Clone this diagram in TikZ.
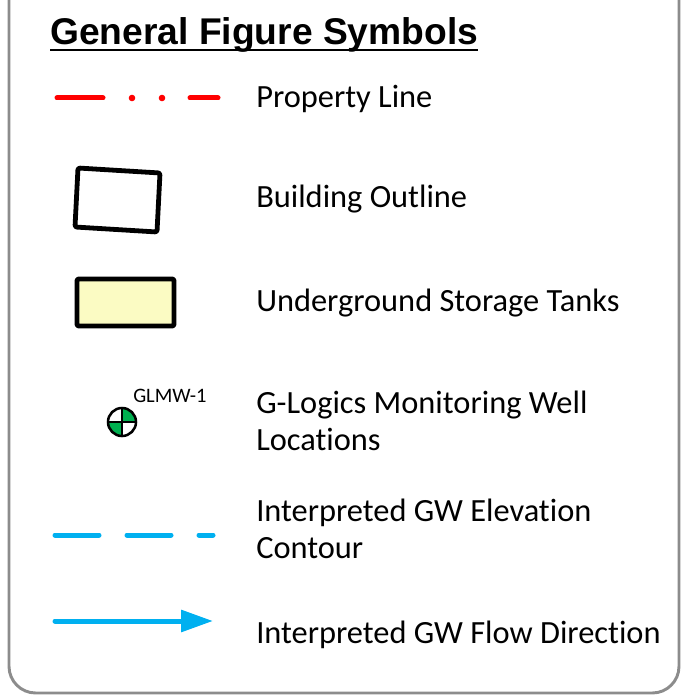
\documentclass[tikz,border=0pt]{standalone}
\usepackage{fontspec}
\setmainfont{Carlito}[Ligatures=NoCommon]
\newfontfamily\headfont{Liberation Sans}
\usepackage{tikz}
\usetikzlibrary{arrows.meta,positioning}
\definecolor{propred}{HTML}{FF0000}
\definecolor{gwblue}{HTML}{00B0F0}
\definecolor{wellgreen}{HTML}{00B050}
\definecolor{tankyellow}{HTML}{FBFBC3}
\definecolor{framegray}{HTML}{8C8C8C}

\begin{document}
\begin{tikzpicture}[
x=0.75pt,y=-0.75pt,
legtext/.style={anchor=base west,inner sep=0pt,align=left,font=\fontsize{24.3}{27.75}\selectfont},
propline/.style={propred,line width=3.75pt,line cap=round},
gwline/.style={gwblue,line width=3.75pt,line cap=round},
heavy/.style={black,line width=3.6pt,line join=round}]
\useasboundingbox (0,0) rectangle (681,695);
% frame
\draw[framegray,line width=2.2pt,rounded corners=20] (9,-40) rectangle (679,693);

% title
\node[anchor=base west,inner sep=0pt,font=\headfont\bfseries\fontsize{27.9}{30}\selectfont] (title) at (50,45) {General Figure Symbols};
\draw[line width=1.6pt] ([yshift=-4pt]title.base west) -- ([yshift=-4pt]title.base east);

% property line
\draw[propline] (57,98) -- (103,98);
\fill[propred] (132,98) circle (3.3);
\fill[propred] (162,98) circle (3.3);
\draw[propline] (190,98) -- (218,98);
\node[legtext] (proptxt) at (256,108) {Property Line};

% building outline
\draw[heavy,rounded corners=1.5] (78,168) -- (160,173) -- (157,232) -- (75,227) -- cycle;
\node[legtext] (bldgtxt) at (256,208) {Building Outline};

% tanks
\draw[heavy,fill=tankyellow,rounded corners=1] (77,279) rectangle (174,326);
\node[legtext] (usttxt) at (256,311) {Underground Storage Tanks};

% monitoring well
\coordinate (well) at (122,422);
\fill[wellgreen] (well) -- ++(14,0) arc[start angle=0,end angle=-90,radius=14] -- cycle;
\fill[wellgreen] (well) -- ++(-14,0) arc[start angle=180,end angle=90,radius=14] -- cycle;
\draw[black,line width=1.5pt] (well) ++(-14,0) -- ++(28,0);
\draw[black,line width=1.5pt] (well) ++(0,-14) -- ++(0,28);
\draw[black,line width=1.9pt] (well) circle (14);
\node[anchor=base west,inner sep=0pt,font=\fontsize{15.4}{18}\selectfont] (welllbl) at (133,402) {GLMW-1};
\node[legtext] (welltxt) at (256,450) {G-Logics Monitoring Well\\Locations};

% gw contour
\draw[gwline] (55,535) -- (99,535);
\draw[gwline] (127,535) -- (171,535);
\draw[gwline] (199,535) -- (213,535);
\node[legtext] (conttxt) at (256,558) {Interpreted GW Elevation\\Contour};

% gw flow
\coordinate (flowstart) at (55,621);
\coordinate (flowend) at (213,621);
\draw[gwline,-{Triangle[length=24pt,width=16pt]}] (flowstart) -- (flowend);
\node[legtext] (flowtxt) at (256,643) {Interpreted GW Flow Direction};
\end{tikzpicture}
\end{document}
